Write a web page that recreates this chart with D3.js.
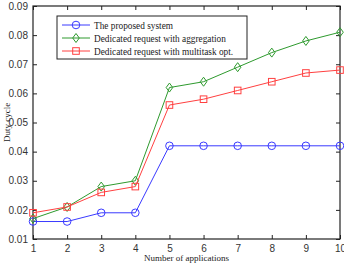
<!DOCTYPE html>
<html><head><meta charset="utf-8">
<script src="https://cdn.jsdelivr.net/npm/d3@7"></script>
<style>body{margin:0;background:#fff}svg{display:block}</style>
</head><body>
<svg id="c" width="344" height="264"></svg>
<script>
const apps = [1,2,3,4,5,6,7,8,9,10];
const proposed = [0.016,0.016,0.019,0.019,0.042,0.042,0.042,0.042,0.042,0.042];
const aggregation = [0.017,0.021,0.028,0.030,0.062,0.064,0.069,0.074,0.078,0.081];
const multitask = [0.019,0.021,0.026,0.028,0.056,0.058,0.061,0.064,0.067,0.068];
const seriesNames = ["The proposed system","Dedicated request with aggregation","Dedicated request with multitask opt."];
const yTicks = [0.01,0.02,0.03,0.04,0.05,0.06,0.07,0.08,0.09];

const svg = d3.select("#c");
const L=33,R=340,T=6,B=239;
const x = d3.scaleLinear().domain([1,10]).range([L,R]);
const y = d3.scaleLinear().domain([0.01,0.09]).range([B,T]);

const tickFont = "Liberation Sans, Arial, sans-serif";
const serif = "Liberation Serif, Times New Roman, serif";

// axes
const gx = svg.append("g").attr("transform",`translate(0,${B})`).call(d3.axisBottom(x).tickValues(apps).tickSize(-4).tickPadding(6).tickFormat(d3.format("d")));
const gxt = svg.append("g").attr("transform",`translate(0,${T})`).call(d3.axisTop(x).tickValues(apps).tickSize(-4).tickFormat(""));
const gy = svg.append("g").attr("transform",`translate(${L},0)`).call(d3.axisLeft(y).tickValues(yTicks).tickSize(-4).tickPadding(5).tickFormat(d3.format(".2f")));
const gyr = svg.append("g").attr("transform",`translate(${R},0)`).call(d3.axisRight(y).tickValues(yTicks).tickSize(-4).tickFormat(""));
[gx,gxt,gy,gyr].forEach(g=>{
  g.select(".domain").remove();
  g.selectAll("line").attr("stroke","#222");
  g.selectAll("text").attr("font-family",tickFont).attr("font-size",10).attr("fill","#333");
});
svg.append("rect").attr("x",L).attr("y",T).attr("width",R-L).attr("height",B-T).attr("fill","none").attr("stroke","#222").attr("stroke-width",1.2);

const cols = ["#3a3aff","#2e9a2e","#ff4040"];
const data = [proposed,aggregation,multitask];
const line = d3.line().x((d,i)=>x(apps[i])).y(d=>y(d));

function marker(g,k,cx,cy){
  if(k===0) g.append("circle").attr("cx",cx).attr("cy",cy).attr("r",3.8);
  else if(k===1) g.append("path").attr("d",`M${cx},${cy-4.5}L${cx+3.3},${cy}L${cx},${cy+4.5}L${cx-3.3},${cy}Z`);
  else g.append("rect").attr("x",cx-3.3).attr("y",cy-3.3).attr("width",6.6).attr("height",6.6);
}

data.forEach((s,k)=>{
  svg.append("path").datum(s).attr("d",line).attr("fill","none").attr("stroke",cols[k]).attr("stroke-width",1);
  const g = svg.append("g").attr("fill","none").attr("stroke",cols[k]).attr("stroke-width",1);
  s.forEach((v,i)=>marker(g,k,x(apps[i]),y(v)));
});

// legend
const lg = svg.append("g");
lg.append("rect").attr("x",57).attr("y",16).attr("width",190).attr("height",43).attr("fill","#fff").attr("stroke","#222").attr("stroke-width",1);
seriesNames.forEach((n,k)=>{
  const yy = 25 + k*13;
  lg.append("line").attr("x1",62).attr("x2",90).attr("y1",yy).attr("y2",yy).attr("stroke",cols[k]);
  const g = lg.append("g").attr("fill","none").attr("stroke",cols[k]);
  marker(g,k,76,yy);
  lg.append("text").attr("x",94).attr("y",yy+3.5).attr("font-family",serif).attr("font-size",9.3).attr("fill","#222").text(n);
});

svg.append("text").attr("x",(L+R)/2).attr("y",261).attr("text-anchor","middle").attr("font-family",serif).attr("font-size",9).attr("fill","#222").text("Number of applications");
svg.append("text").attr("transform",`translate(10,${(T+B)/2}) rotate(-90)`).attr("text-anchor","middle").attr("font-family",serif).attr("font-size",9).attr("fill","#222").text("Duty cycle");
</script>
</body></html>
